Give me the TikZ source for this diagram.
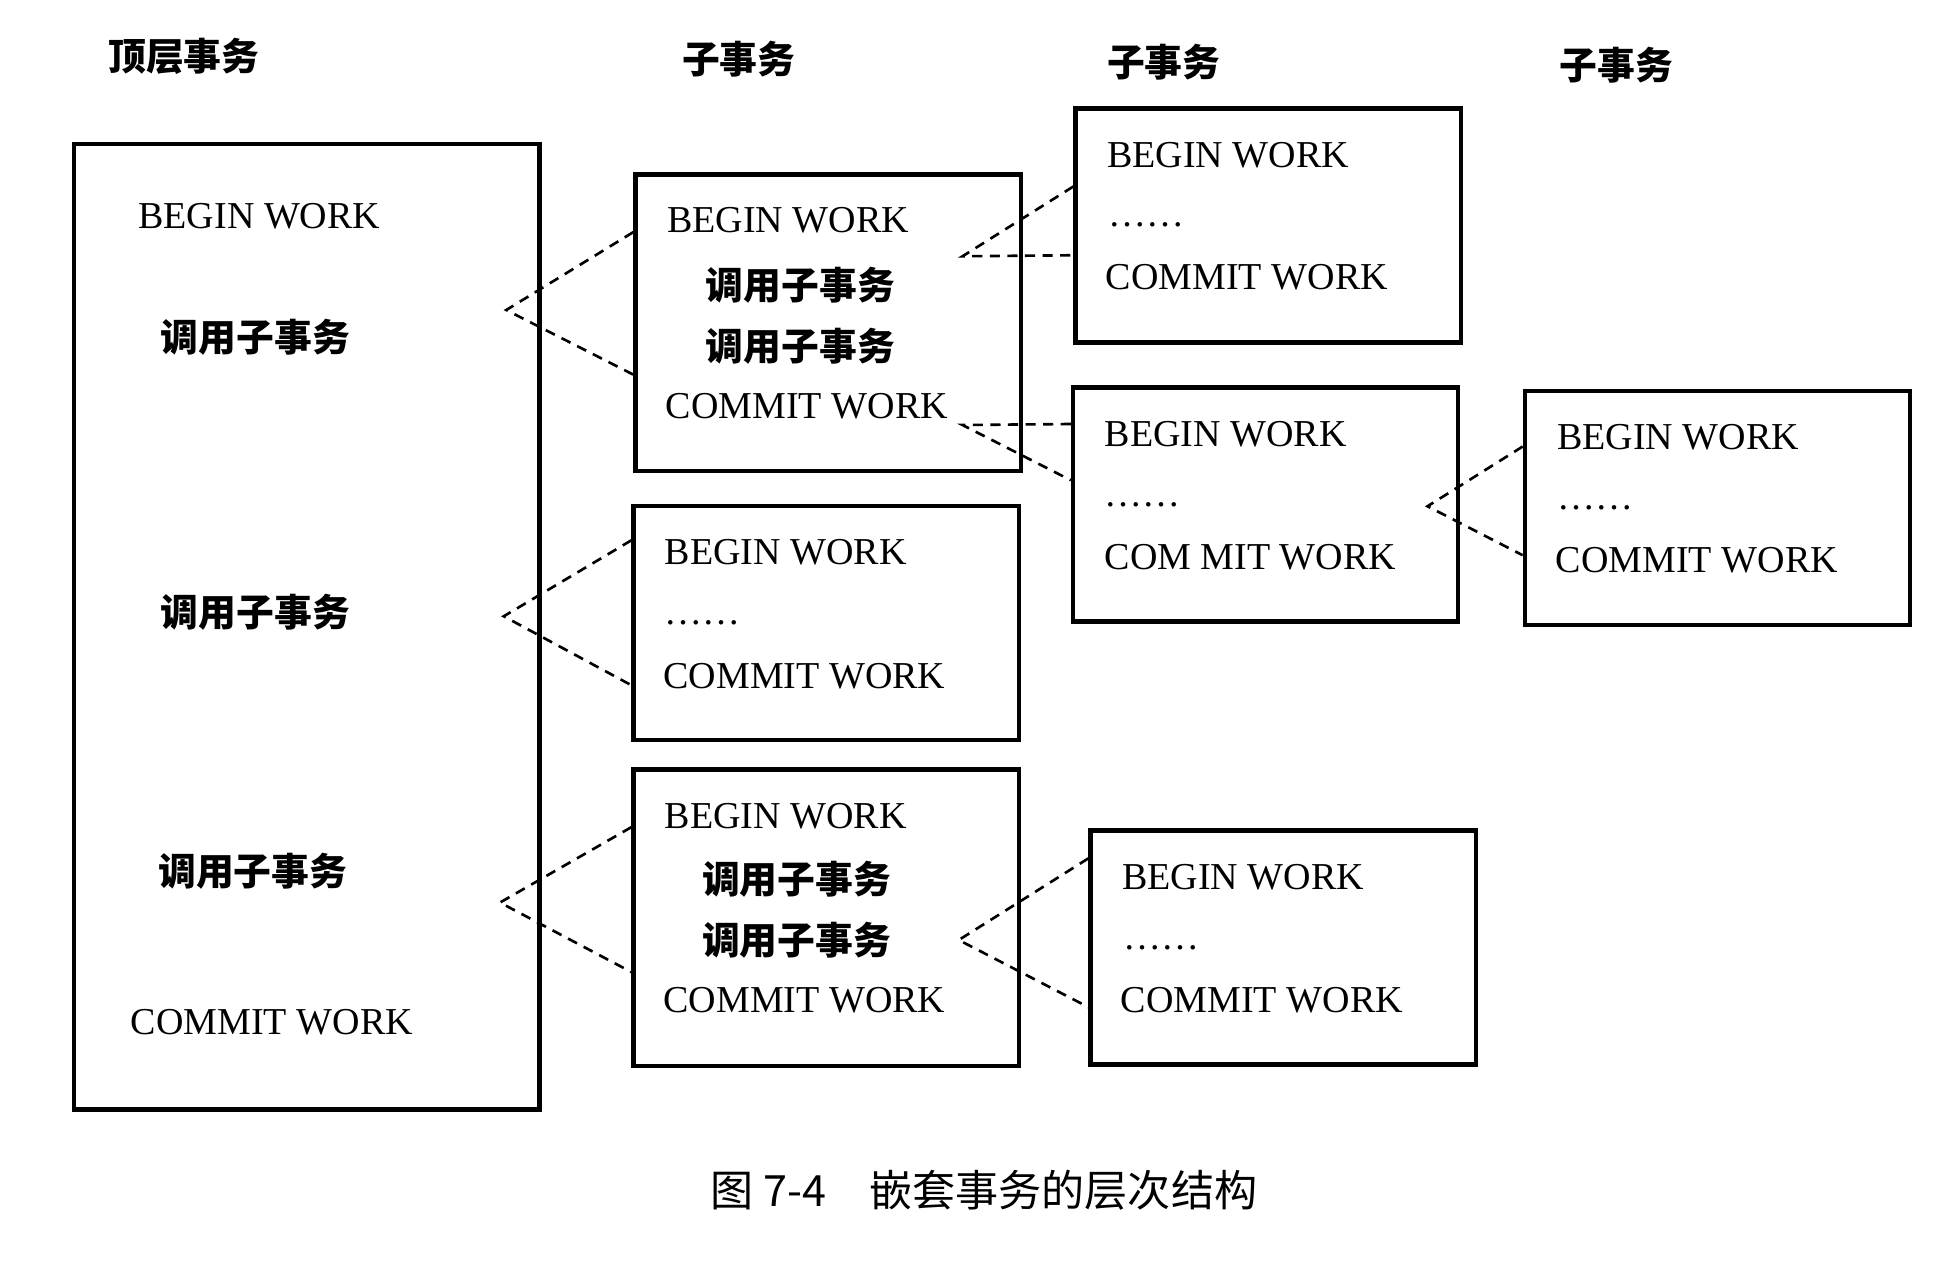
\documentclass[tikz,border=0pt]{standalone}
\usepackage{fontspec}
\setmainfont{Liberation Serif}
\newfontfamily\cjk{Noto Sans CJK SC}
\usetikzlibrary{calc}

\tikzset{
  txbox/.style={draw, line width=1pt, inner sep=0pt, minimum width=3.08cm},
  tallbox/.style={txbox, minimum height=2.37cm},
  lowbox/.style={txbox, minimum height=1.87cm},
  op/.style={anchor=west, inner sep=0pt, font=\fontsize{8.65}{10}\selectfont},
  call/.style={anchor=west, inner sep=0pt, font=\cjk\bfseries\fontsize{8.6}{10}\selectfont},
  head/.style={anchor=west, inner sep=0pt, font=\cjk\bfseries\fontsize{8.6}{10}\selectfont},
  link/.style={dashed, line width=0.6pt, dash pattern=on 2.3pt off 1.7pt}
}

\begin{document}
\begin{tikzpicture}[x=0.01cm,y=-0.01cm]
  \useasboundingbox (0,0) rectangle (1561.6,1012.8);

  % column headings
  \node[head] (h1) at (86,45) {顶层事务};
  \node[head] (h2) at (545,47) {子事务};
  \node[head] (h3) at (885,50) {子事务};
  \node[head] (h4) at (1247,52) {子事务};

  % top level transaction
  \node[txbox, minimum width=3.72cm, minimum height=7.72cm] (top) at (245.5,501.5) {};
  \node[op] (top-begin) at (110,173) {BEGIN WORK};
  \node[call] (top-call1) at (128,270) {调用子事务};
  \node[call] (top-call2) at (128,490) {调用子事务};
  \node[call] (top-call3) at (126,697) {调用子事务};
  \node[op] (top-commit) at (104,818) {COMMIT WORK};

  % second level
  \node[tallbox] (sub1) at (662.5,258) {};
  \node[op] (sub1-begin) at (533,176) {BEGIN WORK};
  \node[call] (sub1-call1) at (564,228) {调用子事务};
  \node[call] (sub1-call2) at (564,277) {调用子事务};
  \node[op] (sub1-commit) at (532,325) {COMMIT WORK};

  \node[lowbox] (sub2) at (661,498.5) {};
  \node[op] (sub2-begin) at (531,442) {BEGIN WORK};
  \node[op] (sub2-dots) at (531,498) {……};
  \node[op] (sub2-commit) at (530,541) {COMMIT WORK};

  \node[tallbox] (sub3) at (661,734) {};
  \node[op] (sub3-begin) at (531,653) {BEGIN WORK};
  \node[call] (sub3-call1) at (561,703) {调用子事务};
  \node[call] (sub3-call2) at (561,752) {调用子事务};
  \node[op] (sub3-commit) at (530,800) {COMMIT WORK};

  % third level
  \node[lowbox] (sub11) at (1014.5,180.5) {};
  \node[op] (sub11-begin) at (885,124) {BEGIN WORK};
  \node[op] (sub11-dots) at (886,180) {……};
  \node[op] (sub11-commit) at (884,222) {COMMIT WORK};

  \node[lowbox] (sub12) at (1012.5,403.5) {};
  \node[op] (sub12-begin) at (883,347) {BEGIN WORK};
  \node[op] (sub12-dots) at (883,404) {……};
  \node[op] (sub12-commit) at (883,446) {COM MIT WORK};

  \node[lowbox] (sub31) at (1026.5,758) {};
  \node[op] (sub31-begin) at (897,702) {BEGIN WORK};
  \node[op] (sub31-dots) at (898,758) {……};
  \node[op] (sub31-commit) at (896,800) {COMMIT WORK};

  % fourth level
  \node[lowbox] (sub121) at (1374,406.5) {};
  \node[op] (sub121-begin) at (1245,350) {BEGIN WORK};
  \node[op] (sub121-dots) at (1245,406) {……};
  \node[op] (sub121-commit) at (1244,448) {COMMIT WORK};

  % call points
  \coordinate (a1) at (405,248);
  \coordinate (a2) at (403,493);
  \coordinate (a3) at (400,722);
  \coordinate (a4) at (770,205);
  \coordinate (a5) at (770,340);
  \coordinate (a6) at (1142,405);
  \coordinate (a7) at (767,752);

  % dashed links
  \draw[link] ($(sub1.north west)+(0,48)$) -- (a1) -- ($(sub1.north west)+(0,162)$);
  \draw[link] ($(sub2.north west)+(0,29)$) -- (a2) -- ($(sub2.north west)+(0,145)$);
  \draw[link] ($(sub3.north west)+(0,48)$) -- (a3) -- ($(sub3.north west)+(0,164)$);
  \draw[link] ($(sub11.north west)+(0,64)$) -- (a4) -- ($(sub11.north west)+(0,119)$);
  \draw[link] ($(sub12.north west)+(0,31)$) -- (a5) -- ($(sub12.north west)+(0,76)$);
  \draw[link] ($(sub121.north west)+(0,46)$) -- (a6) -- ($(sub121.north west)+(0,133)$);
  \draw[link] ($(sub31.north west)+(0,24)$) -- (a7) -- ($(sub31.north west)+(0,143)$);

  % caption
  \node[anchor=west, inner sep=0pt, font=\cjk\fontsize{9.8}{12}\selectfont] (cap) at (568,952) {图 7-4\quad 嵌套事务的层次结构};
\end{tikzpicture}
\end{document}
